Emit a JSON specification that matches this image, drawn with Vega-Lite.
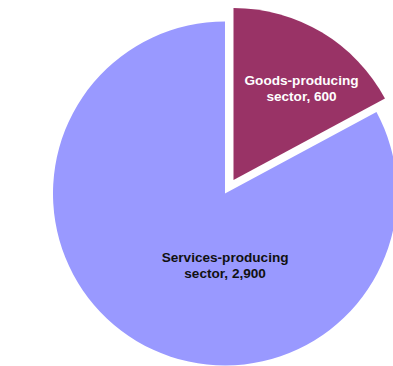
{
  "$schema": "https://vega.github.io/schema/vega-lite/v6.json",
  "width": 344,
  "height": 344,
  "autosize": {"type": "none"},
  "padding": {"left": 53, "top": 21.5, "right": 0, "bottom": 0},
  "background": "white",
  "config": {"view": {"stroke": null}},
  "data": {
    "values": [
      {"sector": "Goods-producing", "value": 600, "label": "Goods-producing\nsector, 600"},
      {"sector": "Services-producing", "value": 2900, "label": "Services-producing\nsector, 2,900"}
    ]
  },
  "encoding": {
    "theta": {"field": "value", "type": "quantitative", "stack": true},
    "order": {"field": "sector", "type": "nominal", "sort": "ascending"}
  },
  "layer": [
    {
      "mark": {"type": "arc", "outerRadius": 172},
      "encoding": {
        "color": {"field": "sector", "type": "nominal", "scale": {"domain": ["Goods-producing", "Services-producing"], "range": ["#993366", "#9999FF"]}, "legend": null},
        "opacity": {"condition": {"test": "datum.sector == 'Goods-producing'", "value": 0}, "value": 1}
      }
    },
    {
      "mark": {"type": "arc", "outerRadius": 172, "xOffset": 8.5, "yOffset": -13.5},
      "encoding": {
        "color": {"field": "sector", "type": "nominal", "scale": {"domain": ["Goods-producing", "Services-producing"], "range": ["#993366", "#9999FF"]}, "legend": null},
        "opacity": {"condition": {"test": "datum.sector == 'Goods-producing'", "value": 1}, "value": 0}
      }
    },
    {
      "mark": {"type": "text", "radius": 114, "thetaOffset": 0.09, "xOffset": 8.5, "yOffset": -13.5, "dx": 1, "dy": -7, "font": "Liberation Sans", "fontWeight": "bold", "fontSize": 13.6, "lineBreak": "\n", "lineHeight": 16, "align": "center", "baseline": "middle", "color": "white"},
      "encoding": {
        "text": {"field": "label"},
        "opacity": {"condition": {"test": "datum.sector == 'Goods-producing'", "value": 1}, "value": 0}
      }
    },
    {
      "mark": {"type": "text", "radius": 71.5, "thetaOffset": -0.54, "dy": -7, "font": "Liberation Sans", "fontWeight": "bold", "fontSize": 13.6, "lineBreak": "\n", "lineHeight": 16, "align": "center", "baseline": "middle", "color": "#111111"},
      "encoding": {
        "text": {"field": "label"},
        "opacity": {"condition": {"test": "datum.sector == 'Services-producing'", "value": 1}, "value": 0}
      }
    }
  ]
}
